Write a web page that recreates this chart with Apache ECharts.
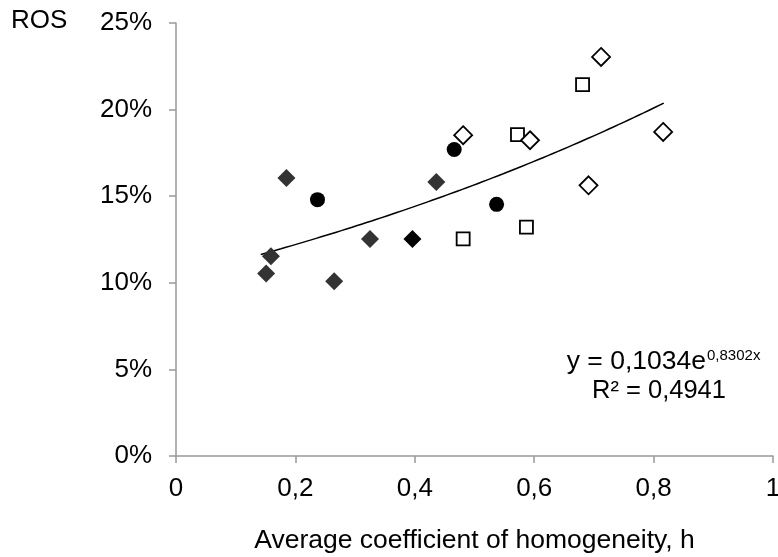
<!DOCTYPE html>
<html>
<head>
<meta charset="utf-8">
<script src="https://cdn.jsdelivr.net/npm/echarts@6/dist/echarts.min.js"></script>
<style>
html,body{margin:0;padding:0;background:#fff;}
#chart{width:778px;height:557px;}
</style>
</head>
<body>
<div id="chart"></div>
<script>
// ---- data (x = h, y = ROS in %) ----
const grayDiamonds = [[0.151,10.53],[0.159,11.53],[0.185,16.05],[0.265,10.09],[0.325,12.53],[0.436,15.82]];
const blackDiamonds = [[0.396,12.53]];
const blackCircles = [[0.237,14.80],[0.466,17.70],[0.537,14.53]];
const openSquares = [[0.481,12.54],[0.572,18.56],[0.587,13.22],[0.681,21.44]];
const openDiamonds = [[0.481,18.52],[0.593,18.23],[0.712,23.04],[0.691,15.63],[0.816,18.71]];
// trendline as given on the chart: y = 0,1034 e^(0,8302x)
const TREND_A = 0.1034, TREND_B = 0.8302;
const TREND_X_START = 0.142, TREND_X_END = 0.817;
const xTicks = ['0','0,2','0,4','0,6','0,8','1'];
const yTicks = ['0%','5%','10%','15%','20%','25%'];

const trend = [];
for (let i = 0; i <= 40; i++) {
  const x = TREND_X_START + (TREND_X_END - TREND_X_START) * i / 40;
  trend.push([x, TREND_A * Math.exp(TREND_B * x) * 100]);
}

const FONT = 'Liberation Sans, Arial, sans-serif';
const chart = echarts.init(document.getElementById('chart'), null, {renderer: 'canvas'});
chart.setOption({
  animation: false,
  backgroundColor: '#fff',
  grid: {left: 176, right: 5, top: 23, bottom: 101, containLabel: false, outerBoundsMode: 'none'},
  xAxis: {
    type: 'value', min: 0, max: 1, interval: 0.2,
    name: 'Average coefficient of homogeneity, h',
    nameLocation: 'middle', nameGap: 71,
    nameTextStyle: {color: '#000', fontSize: 26.5, fontFamily: FONT},
    axisLine: {show: true, lineStyle: {color: '#999', width: 1.5}},
    axisTick: {show: true, length: 7, lineStyle: {color: '#999', width: 1.5}},
    splitLine: {show: false},
    axisLabel: {color: '#000', fontSize: 26, fontFamily: FONT, margin: 20,
      formatter: v => xTicks[Math.round(v / 0.2)]}
  },
  yAxis: {
    type: 'value', min: 0, max: 25, interval: 5,
    axisLine: {show: true, lineStyle: {color: '#999', width: 1.5}},
    axisTick: {show: true, length: 7, lineStyle: {color: '#999', width: 1.5}},
    splitLine: {show: false},
    axisLabel: {color: '#000', fontSize: 26, fontFamily: FONT, margin: 24,
      formatter: v => yTicks[Math.round(v / 5)]}
  },
  graphic: [
    {type: 'text', left: 11, top: 8, style: {text: 'ROS', fontSize: 26, fontFamily: FONT, fill: '#000'}},
    {type: 'text', x: 706, y: 362, style: {text: 'y = 0,1034e', fontSize: 26.5, fontFamily: FONT, fill: '#000', textAlign: 'right', textVerticalAlign: 'middle'}},
    {type: 'text', x: 707, y: 356, style: {text: '0,8302x', fontSize: 15, fontFamily: FONT, fill: '#000', textAlign: 'left', textVerticalAlign: 'middle'}},
    {type: 'text', x: 659, y: 391, style: {text: 'R² = 0,4941', fontSize: 25.5, fontFamily: FONT, fill: '#000', textAlign: 'center', textVerticalAlign: 'middle'}}
  ],
  series: [
    {type: 'line', data: trend, showSymbol: false, smooth: true, silent: true,
      lineStyle: {color: '#000', width: 1.5}, z: 1},
    {type: 'scatter', data: grayDiamonds, symbol: 'diamond', symbolSize: [18, 18],
      itemStyle: {color: '#333', opacity: 1}, z: 3},
    {type: 'scatter', data: blackDiamonds, symbol: 'diamond', symbolSize: [18, 18],
      itemStyle: {color: '#000', opacity: 1}, z: 3},
    {type: 'scatter', data: blackCircles, symbol: 'circle', symbolSize: 15,
      itemStyle: {color: '#000', opacity: 1}, z: 3},
    {type: 'scatter', data: openSquares, symbol: 'rect', symbolSize: 13,
      itemStyle: {color: '#fff', borderColor: '#000', borderWidth: 1.8, opacity: 1}, z: 3},
    {type: 'scatter', data: openDiamonds, symbol: 'diamond', symbolSize: [18, 18],
      itemStyle: {color: '#fff', borderColor: '#000', borderWidth: 1.8, opacity: 1}, z: 3}
  ]
});
</script>
</body>
</html>
